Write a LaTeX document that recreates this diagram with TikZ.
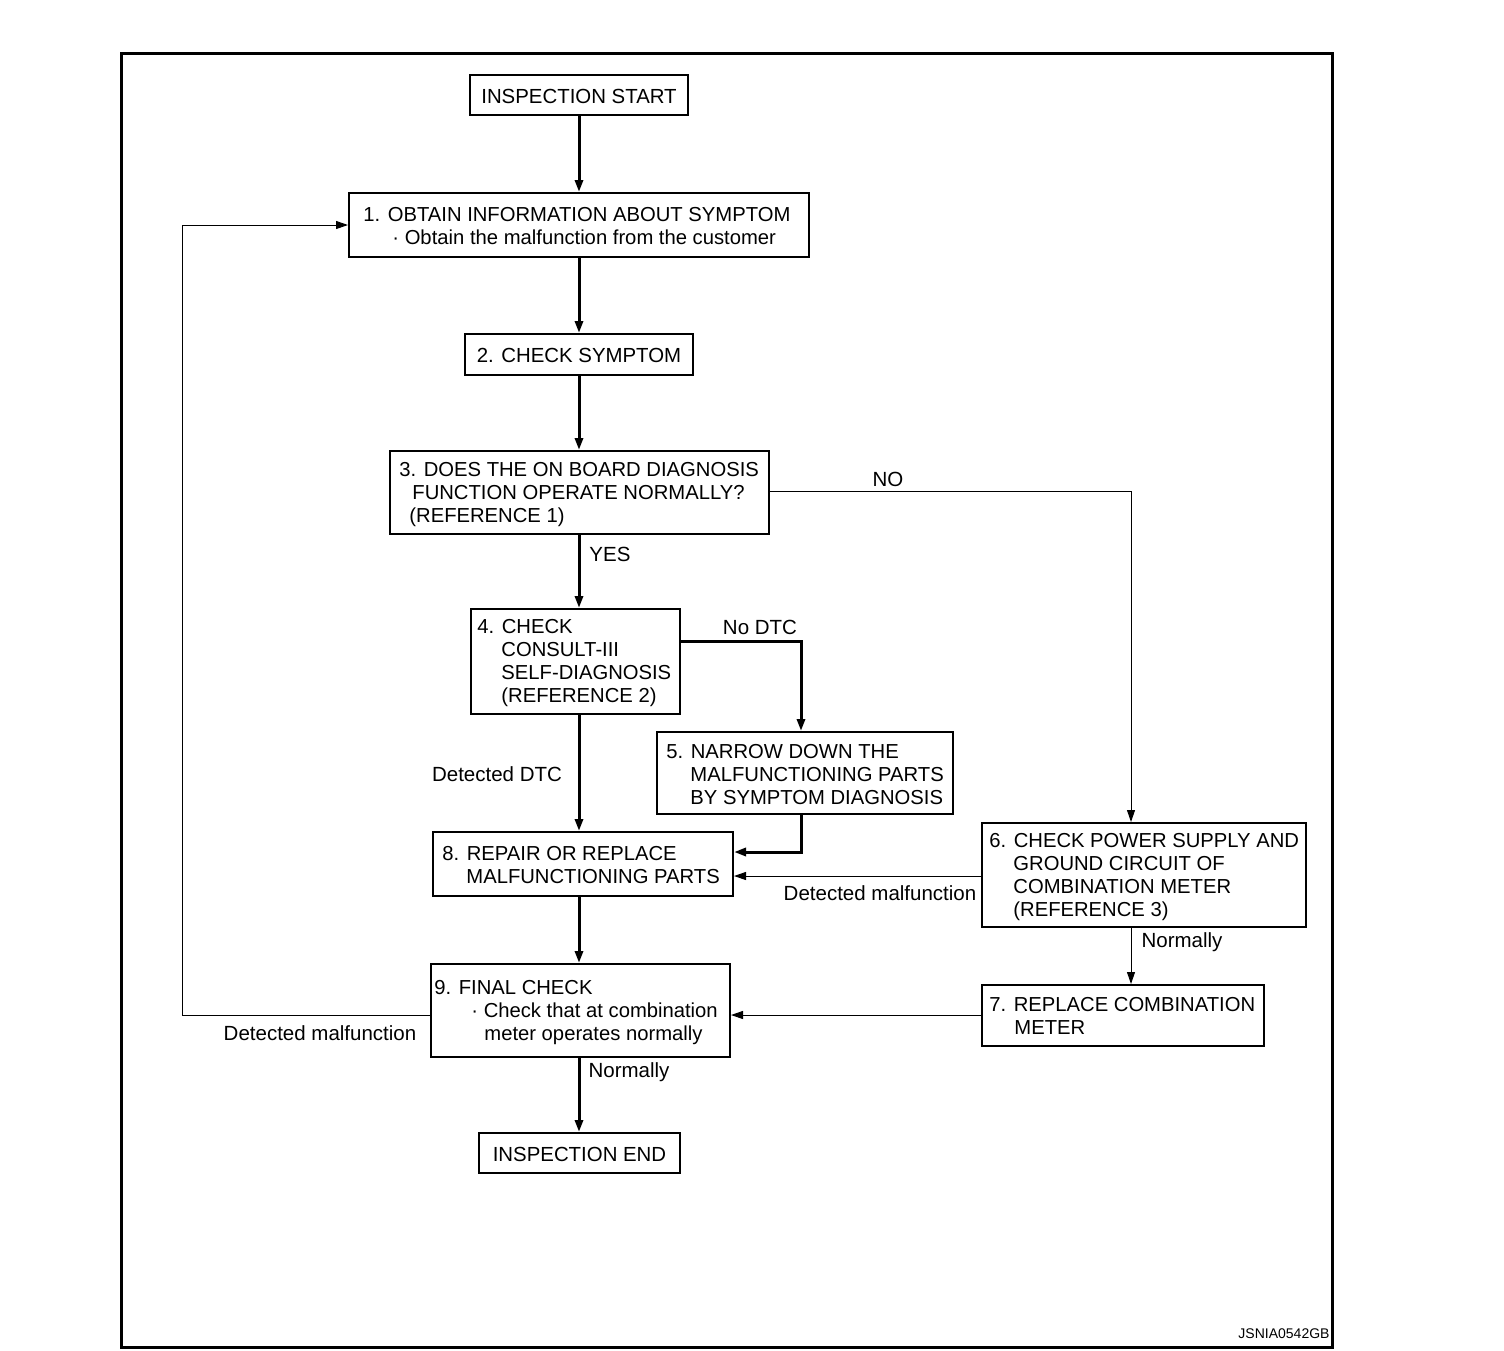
\documentclass[tikz,border=0pt]{standalone}
\usepackage{fontspec}
\setmainfont{Liberation Sans}
\usetikzlibrary{arrows.meta}
\begin{document}
\begin{tikzpicture}[x=0.5pt,y=-0.5pt,
 box/.style={draw, line width=1pt, inner sep=0pt},
 txt/.style={inner sep=0pt, align=left, font=\fontsize{10.12}{11.5}\selectfont, anchor=west},
 ctxt/.style={inner sep=0pt, align=center, font=\fontsize{10.2}{11.5}\selectfont},
 lbl/.style={inner sep=0pt, font=\fontsize{10.25}{11.5}\selectfont},
 mainarrow/.style={line width=1.5pt, -{Triangle[length=6pt,width=4pt]}},
 sidearrow/.style={line width=0.5pt, -{Triangle[length=6pt,width=4pt]}},
]
\useasboundingbox (0,0) rectangle (1504,1350);
\node[draw, line width=1.5pt, inner sep=0pt, minimum width=605.5pt, minimum height=647pt] (frame) at (726.5,700) {};

% boxes
\node[box, minimum width=109pt, minimum height=20pt] (start) at (579,95) {};
\node[ctxt] (tstart) at ([yshift=-0.5pt]start.center) {INSPECTION START};

\node[box, minimum width=230pt, minimum height=32pt] (b1) at (579,225) {};
\node[txt] (t1) at ([xshift=7.5pt,yshift=-0.5pt]b1.west) {1. OBTAIN INFORMATION ABOUT SYMPTOM\\\hspace*{14.5pt}· Obtain the malfunction from the customer};

\node[box, minimum width=114pt, minimum height=20.5pt] (b2) at (579,354.5) {};
\node[ctxt] (t2) at ([yshift=-0.5pt]b2.center) {2. CHECK SYMPTOM};

\node[box, minimum width=189.5pt, minimum height=41.5pt] (b3) at (579.5,492.5) {};
\node[txt] (t3) at ([xshift=5pt,yshift=-1pt]b3.west) {3. DOES THE ON BOARD DIAGNOSIS\\\hspace*{6.5pt}FUNCTION OPERATE NORMALLY?\\\hspace*{5pt}(REFERENCE 1)};

\node[box, minimum width=104.5pt, minimum height=52.5pt] (b4) at (575.5,661.5) {};
\node[txt] (t4) at ([xshift=3.5pt,yshift=-1pt]b4.west) {4. CHECK\\\hspace*{12pt}CONSULT-III\\\hspace*{12pt}SELF-DIAGNOSIS\\\hspace*{12pt}(REFERENCE 2)};

\node[box, minimum width=148pt, minimum height=41pt] (b5) at (805,773) {};
\node[txt] (t5) at ([xshift=5pt,yshift=-1pt]b5.west) {5. NARROW DOWN THE\\\hspace*{12pt}MALFUNCTIONING PARTS\\\hspace*{12pt}BY SYMPTOM DIAGNOSIS};

\node[box, minimum width=150pt, minimum height=32pt] (b8) at (583,864) {};
\node[txt] (t8) at ([xshift=5pt,yshift=-0.5pt]b8.west) {8. REPAIR OR REPLACE\\\hspace*{12pt}MALFUNCTIONING PARTS};

\node[box, minimum width=162pt, minimum height=52pt] (b6) at (1144,875) {};
\node[txt] (t6) at ([xshift=4pt,yshift=-1pt]b6.west) {6. CHECK POWER SUPPLY AND\\\hspace*{12pt}GROUND CIRCUIT OF\\\hspace*{12pt}COMBINATION METER\\\hspace*{12pt}(REFERENCE 3)};

\node[box, minimum width=141pt, minimum height=30.5pt] (b7) at (1123,1015.5) {};
\node[txt] (t7) at ([xshift=4pt]b7.west) {7. REPLACE COMBINATION\\\hspace*{12.5pt}METER};

\node[box, minimum width=149.5pt, minimum height=46.5pt] (b9) at (580.5,1010.5) {};
\node[txt] (t9) at ([xshift=2pt,yshift=-1pt]b9.west) {9. FINAL CHECK\\\hspace*{18.5pt}· Check that at combination\\\hspace*{25pt}meter operates normally};

\node[box, minimum width=100.5pt, minimum height=20pt] (end) at (579.5,1153) {};
\node[ctxt] (tend) at ([yshift=-0.5pt]end.center) {INSPECTION END};

% helper coordinates
\coordinate (mx) at (579,0);
\coordinate (nox) at (1131,0);
\coordinate (ndtc) at (801,641);
\coordinate (m1) at (0,852);
\coordinate (m2) at (0,876);
\coordinate (m3) at (0,1015);
\coordinate (lp) at (182,225);

% main column
\draw[mainarrow] (mx |- start.south) -- (mx |- b1.north);
\draw[mainarrow] (mx |- b1.south) -- (mx |- b2.north);
\draw[mainarrow] (mx |- b2.south) -- (mx |- b3.north);
\draw[mainarrow] (mx |- b3.south) -- (mx |- b4.north);
\draw[mainarrow] (mx |- b4.south) -- (mx |- b8.north);
\draw[mainarrow] (mx |- b8.south) -- (mx |- b9.north);
\draw[mainarrow] (mx |- b9.south) -- (mx |- end.north);

% branches
\draw[sidearrow] (b3.east |- 0,491) -| (nox |- b6.north);
\draw[mainarrow] (b4.east |- ndtc) -| (ndtc |- b5.north);
\draw[mainarrow] (ndtc |- b5.south) |- (b8.east |- m1);
\draw[sidearrow] (b6.west |- m2) -- (b8.east |- m2);
\draw[sidearrow] (nox |- b6.south) -- (nox |- b7.north);
\draw[sidearrow] (b7.west |- m3) -- (b9.east |- m3);
\draw[sidearrow] (b9.west |- m3) -| (lp) -- (b1.west |- lp);

% labels
\node[lbl] (lyes) at (610,554) {YES};
\node[lbl] (lno) at (888,479) {NO};
\node[lbl] (lnodtc) at (760,627) {No DTC};
\node[lbl] (ldtc) at (497,774) {Detected DTC};
\node[lbl] (ldm1) at (880,893) {Detected malfunction};
\node[lbl] (lnorm1) at (1182,942) {Normally};
\node[lbl] (ldm2) at (320,1033) {Detected malfunction};
\node[lbl] (lnorm2) at (629,1072) {Normally};
\node[inner sep=0pt, font=\fontsize{7}{8}\selectfont] (code) at (1284,1334) {JSNIA0542GB};
\end{tikzpicture}
\end{document}
